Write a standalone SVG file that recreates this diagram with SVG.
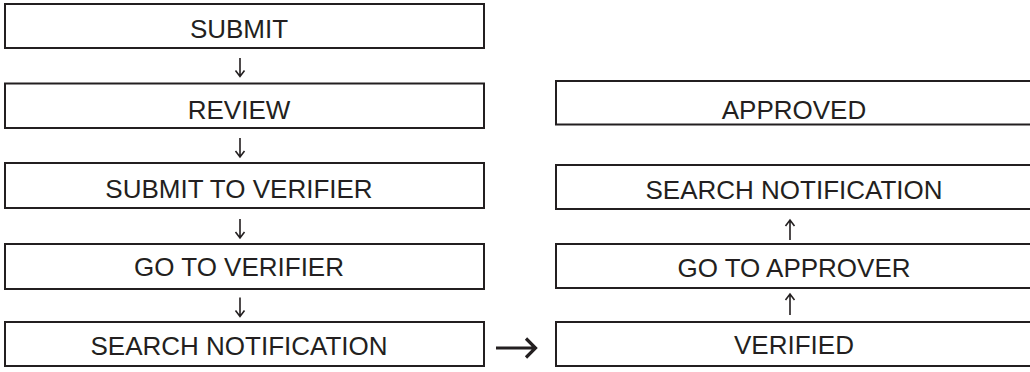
<svg xmlns="http://www.w3.org/2000/svg" width="1030" height="372" viewBox="0 0 1030 372">
<style>
.box{fill:#ffffff;stroke:#231f20;stroke-width:2}
.lbl{font-family:"Liberation Sans",Arial,sans-serif;font-size:26px;fill:#231f20;text-anchor:middle}
.arr{fill:none;stroke:#231f20;stroke-width:1.6;stroke-linecap:butt;stroke-linejoin:miter}
.arrb{fill:none;stroke:#231f20;stroke-width:3.2;stroke-linejoin:miter}
</style>
<rect width="1030" height="372" fill="#ffffff"/>
<g id="n-submit"><rect class="box" x="5" y="4" width="479" height="44"/><text class="lbl" x="239" y="38">SUBMIT</text></g>
<g id="n-review"><rect class="box" x="5" y="83.5" width="479" height="44.5"/><text class="lbl" x="239" y="118.5">REVIEW</text></g>
<g id="n-submit-verifier"><rect class="box" x="5" y="163" width="479" height="45"/><text class="lbl" x="239" y="197.5">SUBMIT TO VERIFIER</text></g>
<g id="n-go-verifier"><rect class="box" x="5" y="244" width="479" height="45"/><text class="lbl" x="239" y="276">GO TO VERIFIER</text></g>
<g id="n-search-left"><rect class="box" x="5" y="322" width="479" height="44"/><text class="lbl" x="239" y="355">SEARCH NOTIFICATION</text></g>
<g id="n-approved"><rect class="box" x="556" y="81" width="478" height="43.5"/><text class="lbl" x="794" y="119.3">APPROVED</text></g>
<g id="n-search-right"><rect class="box" x="556" y="165" width="478" height="44"/><text class="lbl" x="794" y="199.3">SEARCH NOTIFICATION</text></g>
<g id="n-go-approver"><rect class="box" x="556" y="244" width="478" height="44"/><text class="lbl" x="794" y="276.7">GO TO APPROVER</text></g>
<g id="n-verified"><rect class="box" x="556" y="322" width="478" height="44"/><text class="lbl" x="794" y="354.3">VERIFIED</text></g>
<g id="connectors">
<path class="arr" d="M240 58V76.5M235.5 70.5L240 76.5L244.5 70.5"/>
<path class="arr" d="M240 138V157M235.5 151L240 157L244.5 151"/>
<path class="arr" d="M240 219V238M235.5 232L240 238L244.5 232"/>
<path class="arr" d="M240 297.5V316.5M235.5 310.5L240 316.5L244.5 310.5"/>
<path class="arr" d="M790 240V220M785.5 226L790 220L794.5 226"/>
<path class="arr" d="M790 315V294M785.5 300L790 294L794.5 300"/>
<path class="arrb" d="M496 348H535M526 338.5L535.5 348L526 357.5"/>
</g>
</svg>
